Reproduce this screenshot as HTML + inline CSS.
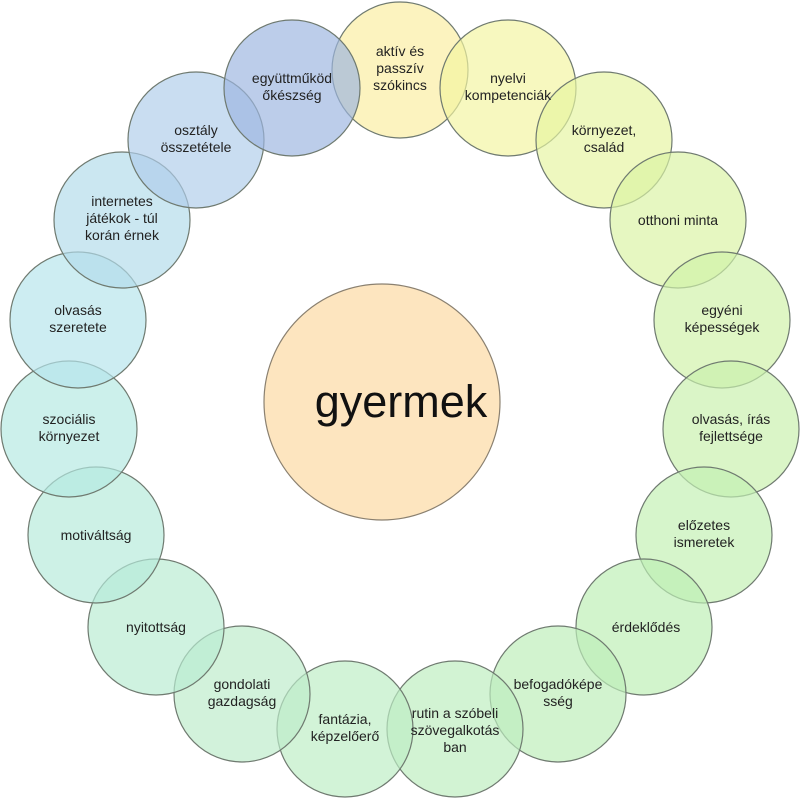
<!DOCTYPE html>
<html><head><meta charset="utf-8"><style>html,body{margin:0;padding:0;background:#fff}svg{display:block}</style></head>
<body>
<svg width="802" height="800" viewBox="0 0 802 800" xmlns="http://www.w3.org/2000/svg" font-family="'Liberation Sans', 'DejaVu Sans', sans-serif" font-size="14" fill="#222">
<circle cx="382" cy="402" r="118" fill="#fde5bf" stroke="#8a8070" stroke-width="1.2"/>
<text x="401" y="417" font-size="45" text-anchor="middle" fill="#111">gyermek</text>
<g stroke="#6f7a70" stroke-width="1.2" fill-opacity="0.68">
<circle cx="400" cy="70" r="68" fill="#fbeea0"/>
<circle cx="508" cy="88" r="68" fill="#f3f5a0"/>
<circle cx="604" cy="140" r="68" fill="#e6f5a0"/>
<circle cx="678" cy="220" r="68" fill="#daf3a4"/>
<circle cx="722" cy="320" r="68" fill="#d0f2a8"/>
<circle cx="731" cy="429" r="68" fill="#c8f0ac"/>
<circle cx="704" cy="535" r="68" fill="#c2f0b2"/>
<circle cx="644" cy="627" r="68" fill="#bcefb4"/>
<circle cx="558" cy="694" r="68" fill="#bdeeb8"/>
<circle cx="455" cy="729" r="68" fill="#bdeebe"/>
<circle cx="345" cy="729" r="68" fill="#bdedc4"/>
<circle cx="242" cy="694" r="68" fill="#bdecca"/>
<circle cx="156" cy="627" r="68" fill="#b8ecd2"/>
<circle cx="96" cy="535" r="68" fill="#b6ebda"/>
<circle cx="69" cy="429" r="68" fill="#b4e9e2"/>
<circle cx="78" cy="320" r="68" fill="#b6e5ec"/>
<circle cx="122" cy="220" r="68" fill="#b2dcea"/>
<circle cx="196" cy="140" r="68" fill="#b0cdea"/>
<circle cx="292" cy="88" r="68" fill="#9cb6e0"/>
</g>
<g text-anchor="middle">
<text x="400" y="56">aktív és</text><text x="400" y="73">passzív</text><text x="400" y="90">szókincs</text>
<text x="508" y="83">nyelvi</text><text x="508" y="100">kompetenciák</text>
<text x="604" y="135">környezet,</text><text x="604" y="152">család</text>
<text x="678" y="225">otthoni minta</text>
<text x="722" y="315">egyéni</text><text x="722" y="332">képességek</text>
<text x="731" y="424">olvasás, írás</text><text x="731" y="441">fejlettsége</text>
<text x="704" y="530">előzetes</text><text x="704" y="547">ismeretek</text>
<text x="646" y="632">érdeklődés</text>
<text x="558" y="689">befogadóképe</text><text x="558" y="706">sség</text>
<text x="455" y="718">rutin a szóbeli</text><text x="455" y="735">szövegalkotás</text><text x="455" y="752">ban</text>
<text x="345" y="724">fantázia,</text><text x="345" y="741">képzelőerő</text>
<text x="242" y="689">gondolati</text><text x="242" y="706">gazdagság</text>
<text x="156" y="632">nyitottság</text>
<text x="96" y="540">motiváltság</text>
<text x="69" y="424">szociális</text><text x="69" y="441">környezet</text>
<text x="78" y="315">olvasás</text><text x="78" y="332">szeretete</text>
<text x="122" y="206">internetes</text><text x="122" y="223">játékok - túl</text><text x="122" y="240">korán érnek</text>
<text x="196" y="135">osztály</text><text x="196" y="152">összetétele</text>
<text x="292" y="83">együttműköd</text><text x="292" y="100">őkészség</text>
</g>
</svg>
</body></html>
